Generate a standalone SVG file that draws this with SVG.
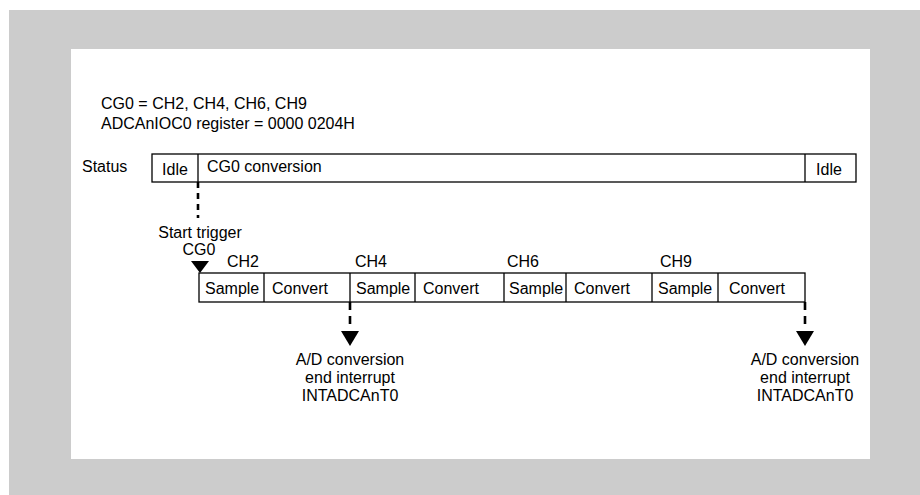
<svg xmlns="http://www.w3.org/2000/svg" width="920" height="495" viewBox="0 0 920 495">
  <style>
    text { font-family: "Liberation Sans", Arial, sans-serif; font-size: 16px; fill: #000; }
    .mid { text-anchor: middle; }
    .box { fill: #fff; stroke: #000; stroke-width: 1.3; }
    .div { stroke: #000; stroke-width: 1.3; }
    .dash { stroke: #000; stroke-width: 2.6; stroke-dasharray: 8 6; fill: none; }
    .tri { fill: #000; }
  </style>

  <!-- frame -->
  <rect x="9" y="10" width="911" height="485" fill="#cccccc"/>
  <rect x="71" y="49" width="799" height="410" fill="#ffffff"/>

  <!-- header notes -->
  <g id="notes">
    <text x="101" y="109">CG0 = CH2, CH4, CH6, CH9</text>
    <text x="101" y="129">ADCAnIOC0 register = 0000 0204H</text>
  </g>

  <!-- status row -->
  <g id="status">
    <text x="82" y="172">Status</text>
    <rect class="box" x="152" y="154" width="704" height="28"/>
    <line class="div" x1="198" y1="154" x2="198" y2="182"/>
    <line class="div" x1="805" y1="154" x2="805" y2="182"/>
    <text x="175" y="175" class="mid">Idle</text>
    <text x="207" y="172">CG0 conversion</text>
    <text x="829" y="175" class="mid">Idle</text>
  </g>

  <!-- channel sequence -->
  <g id="sequence">
    <rect class="box" x="199" y="273" width="606" height="29"/>
    <line class="div" x1="264" y1="273" x2="264" y2="302"/>
    <line class="div" x1="350" y1="273" x2="350" y2="302"/>
    <line class="div" x1="415" y1="273" x2="415" y2="302"/>
    <line class="div" x1="504" y1="273" x2="504" y2="302"/>
    <line class="div" x1="566" y1="273" x2="566" y2="302"/>
    <line class="div" x1="652" y1="273" x2="652" y2="302"/>
    <line class="div" x1="718" y1="273" x2="718" y2="302"/>
    <text x="205" y="294">Sample</text>
    <text x="272" y="294">Convert</text>
    <text x="356" y="294">Sample</text>
    <text x="423" y="294">Convert</text>
    <text x="509" y="294">Sample</text>
    <text x="574" y="294">Convert</text>
    <text x="658" y="294">Sample</text>
    <text x="729" y="294">Convert</text>
    <text x="227" y="267">CH2</text>
    <text x="355" y="267">CH4</text>
    <text x="507" y="267">CH6</text>
    <text x="660" y="267">CH9</text>
  </g>

  <!-- trigger and interrupt markers -->
  <g id="connectors">
    <line class="dash" x1="198" y1="182" x2="198" y2="218" style="stroke-dasharray: 6 5"/>
    <polygon class="tri" points="191,261 209,261 200,273"/>
    <line class="dash" x1="350" y1="302" x2="350" y2="326"/>
    <polygon class="tri" points="341,331 359,331 350,346"/>
    <line class="dash" x1="805" y1="302" x2="805" y2="326"/>
    <polygon class="tri" points="796,331 814,331 805,346"/>
  </g>

  <g id="trigger">
    <text x="200" y="238" class="mid">Start trigger</text>
    <text x="199" y="255" class="mid">CG0</text>
  </g>

  <g id="int1">
    <text x="350" y="365" class="mid">A/D conversion</text>
    <text x="350" y="383" class="mid">end interrupt</text>
    <text x="350" y="401" class="mid">INTADCAnT0</text>
  </g>

  <g id="int2">
    <text x="805" y="365" class="mid">A/D conversion</text>
    <text x="805" y="383" class="mid">end interrupt</text>
    <text x="805" y="401" class="mid">INTADCAnT0</text>
  </g>
</svg>
